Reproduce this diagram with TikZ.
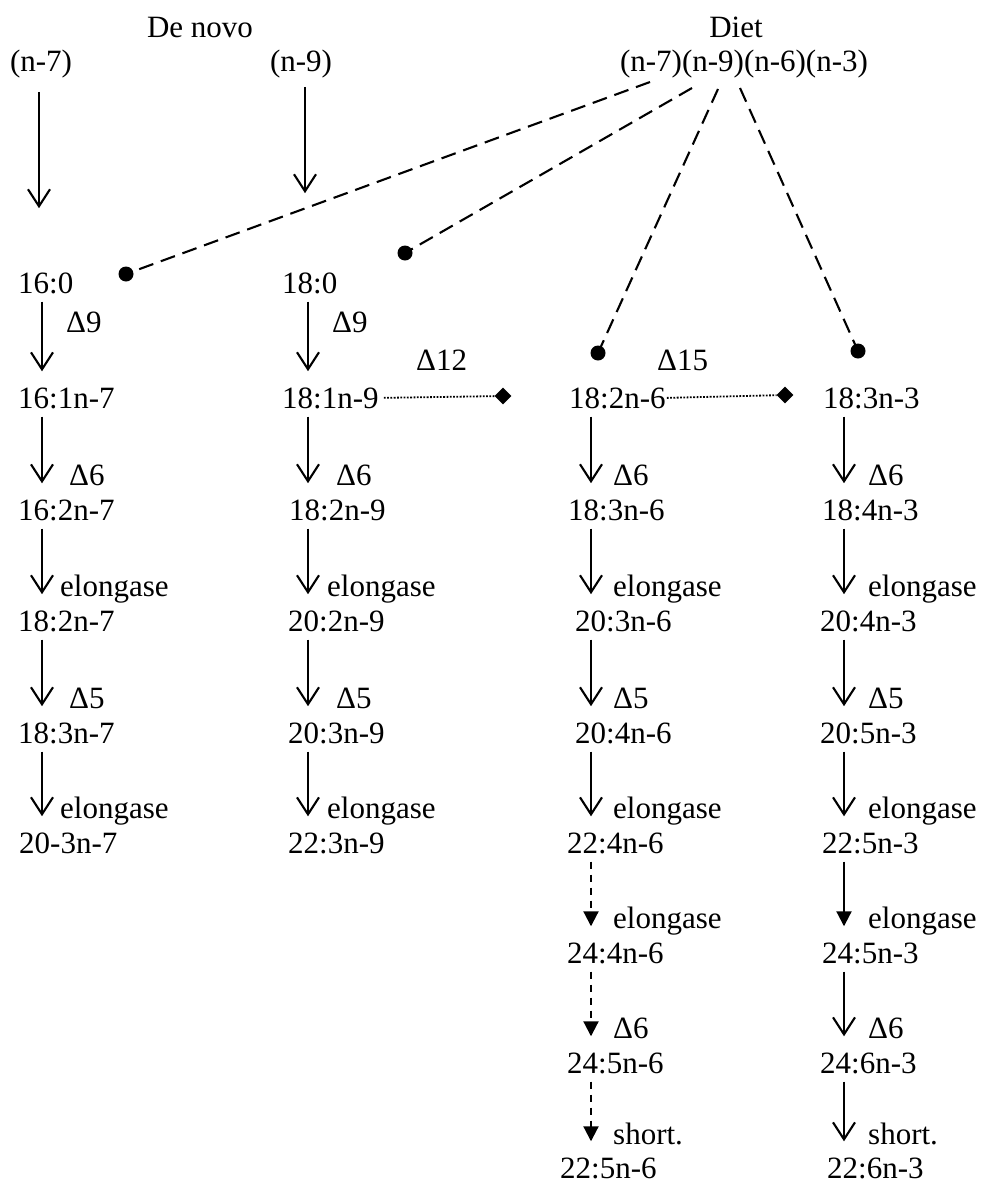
\documentclass[tikz,border=0pt]{standalone}
\usepackage{fontspec}
\setmainfont{Liberation Serif}
\usetikzlibrary{arrows.meta, shapes.geometric}

\tikzset{
  txt/.style={inner sep=0pt, font=\fontsize{31}{36}\selectfont},
  fa/.style={txt, anchor=base west},
  enz/.style={txt, anchor=base west},
  head/.style={txt, anchor=base},
  conv/.style={line width=2.1pt, -{Straight Barb[length=17pt,width=22pt]},
    shorten <=8pt, shorten >=16pt},
  solidconv/.style={line width=2.1pt, -{Triangle[length=15pt,width=15pt]},
    shorten <=8pt, shorten >=16pt},
  dashconv/.style={solidconv, dash pattern=on 7pt off 6pt},
  dietline/.style={line width=2.1pt, dash pattern=on 15pt off 8pt},
  inhib/.style={line width=1.8pt, dash pattern=on 1.8pt off 1.5pt},
  dot/.style={circle, fill=black, inner sep=0pt, minimum size=15pt},
  tipend/.style={diamond, fill=black, inner sep=0pt, minimum size=17pt}
}

\begin{document}
\begin{tikzpicture}[x=1pt, y=-1pt]
  \useasboundingbox (0,0) rectangle (982,1186);

  % Sources
  \node[head] (denovo) at (200,37) {De novo};
  \node[head] (src7) at (41,71) {(n-7)};
  \node[head] (src9) at (301,71) {(n-9)};
  \node[head] (diet) at (736,37) {Diet};
  \node[head] (dietsrc) at (744,71) {(n-7)(n-9)(n-6)(n-3)};
  \coordinate (pA) at (650,82);
  \coordinate (pB) at (692,88);
  \coordinate (pC) at (718,89);
  \coordinate (pD) at (740,88);

  % Arrow columns
  \coordinate (ax0) at (39,0);
  \coordinate (ax9) at (305,0);
  \coordinate (ax1) at (42,0);
  \coordinate (ax2) at (308,0);
  \coordinate (ax3) at (591,0);
  \coordinate (ax4) at (844,0);

  % n-7 series
  \node[fa] (c1r0) at (18,293) {16:0};
  \node[fa] (c1r1) at (18,408) {16:1n-7};
  \node[fa] (c1r2) at (18,520) {16:2n-7};
  \node[fa] (c1r3) at (18,631) {18:2n-7};
  \node[fa] (c1r4) at (18,743) {18:3n-7};
  \node[fa] (c1r5) at (19,853) {20-3n-7};

  % n-9 series
  \node[fa] (c2r0) at (282,293) {18:0};
  \node[fa] (c2r1) at (282,408) {18:1n-9};
  \node[fa] (c2r2) at (289,520) {18:2n-9};
  \node[fa] (c2r3) at (288,631) {20:2n-9};
  \node[fa] (c2r4) at (288,743) {20:3n-9};
  \node[fa] (c2r5) at (288,853) {22:3n-9};

  % n-6 series
  \node[fa] (c3r1) at (569,408) {18:2n-6};
  \node[fa] (c3r2) at (568,520) {18:3n-6};
  \node[fa] (c3r3) at (575,631) {20:3n-6};
  \node[fa] (c3r4) at (575,743) {20:4n-6};
  \node[fa] (c3r5) at (567,853) {22:4n-6};
  \node[fa] (c3r6) at (567,963) {24:4n-6};
  \node[fa] (c3r7) at (567,1073) {24:5n-6};
  \node[fa] (c3r8) at (560,1178) {22:5n-6};

  % n-3 series
  \node[fa] (c4r1) at (823,408) {18:3n-3};
  \node[fa] (c4r2) at (822,520) {18:4n-3};
  \node[fa] (c4r3) at (820,631) {20:4n-3};
  \node[fa] (c4r4) at (820,743) {20:5n-3};
  \node[fa] (c4r5) at (822,853) {22:5n-3};
  \node[fa] (c4r6) at (822,963) {24:5n-3};
  \node[fa] (c4r7) at (820,1073) {24:6n-3};
  \node[fa] (c4r8) at (827,1178) {22:6n-3};

  % De novo inputs
  \draw[conv, shorten <=14pt, shorten >=64pt] (src7.south -| ax0) -- (c1r0.north -| ax0);
  \draw[conv, shorten <=9pt, shorten >=79pt] (src9.south -| ax9) -- (c2r0.north -| ax9);

  % Dietary inputs
  \node[dot] (d16) at (126,274) {};
  \node[dot] (d18) at (405,253) {};
  \node[dot] (d6) at (598,353) {};
  \node[dot] (d3) at (858,351) {};
  \draw[dietline] (pA) -- (d16.center);
  \draw[dietline] (pB) -- (d18.center);
  \draw[dietline] (pC) -- (d6.center);
  \draw[dietline] (pD) -- (d3.center);

  % Delta12 and Delta15
  \node[enz] (e12) at (416,370) {Δ12};
  \node[enz] (e15) at (657,370) {Δ15};
  \node[tipend] (k12) at (503,396) {};
  \node[tipend] (k15) at (785,395) {};
  \draw[inhib, shorten <=5pt] (c2r1.east) -- (k12);
  \draw[inhib, shorten <=1pt] (c3r1.east) -- (k15);

  % Conversion arrows
  \foreach \r [count=\s from 1] in {0,...,4} {
    \draw[conv] (c1r\r.south -| ax1) -- (c1r\s.north -| ax1);
    \draw[conv] (c2r\r.south -| ax2) -- (c2r\s.north -| ax2);
  }
  \foreach \r [count=\s from 2] in {1,...,4} {
    \draw[conv] (c3r\r.south -| ax3) -- (c3r\s.north -| ax3);
    \draw[conv] (c4r\r.south -| ax4) -- (c4r\s.north -| ax4);
  }
  \foreach \r [count=\s from 6] in {5,6,7}
    \draw[dashconv] (c3r\r.south -| ax3) -- (c3r\s.north -| ax3);
  \draw[solidconv] (c4r5.south -| ax4) -- (c4r6.north -| ax4);
  \draw[conv] (c4r6.south -| ax4) -- (c4r7.north -| ax4);
  \draw[conv] (c4r7.south -| ax4) -- (c4r8.north -| ax4);

  % Enzyme labels
  \node[enz] at (66,332) {Δ9};
  \node[enz] at (69,485) {Δ6};
  \node[enz] at (60,596) {elongase};
  \node[enz] at (69,708) {Δ5};
  \node[enz] at (60,818) {elongase};

  \node[enz] at (332,332) {Δ9};
  \node[enz] at (336,485) {Δ6};
  \node[enz] at (327,596) {elongase};
  \node[enz] at (336,708) {Δ5};
  \node[enz] at (327,818) {elongase};

  \foreach \x in {613,868} {
    \node[enz] at (\x,485) {Δ6};
    \node[enz] at (\x,596) {elongase};
    \node[enz] at (\x,708) {Δ5};
    \node[enz] at (\x,818) {elongase};
    \node[enz] at (\x,928) {elongase};
    \node[enz] at (\x,1038) {Δ6};
    \node[enz] at (\x,1144) {short.};
  }
\end{tikzpicture}
\end{document}
